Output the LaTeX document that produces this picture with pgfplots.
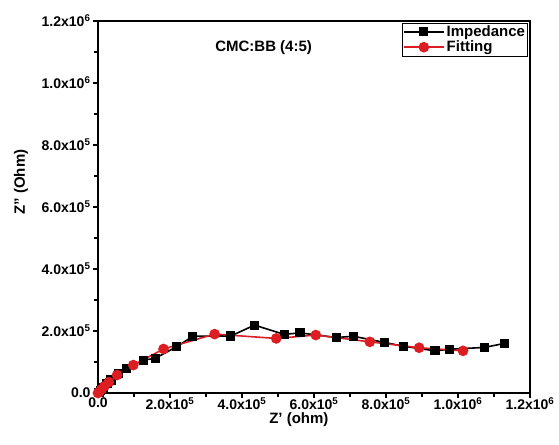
\documentclass[border=0pt]{standalone}
\usepackage{fontspec}
\setmainfont{Liberation Sans}
\usepackage{pgfplots}
\pgfplotsset{compat=1.18}
\definecolor{fitred}{RGB}{220,30,35}
\begin{document}
\begin{tikzpicture}
\begin{axis}[
  at={(0,0)}, anchor=south west,
  scale only axis, width=432pt, height=372pt,
  xmin=0, xmax=1200000, ymin=0, ymax=1200000,
  scaled ticks=false,
  axis line style={line width=1.3pt},
  tick align=outside, tick pos=left,
  major tick length=5pt, minor tick length=4pt,
  every tick/.style={line width=1.1pt, black},
  minor x tick num=1, minor y tick num=1,
  xtick={0,200000,400000,600000,800000,1000000,1200000},
  ytick={0,200000,400000,600000,800000,1000000,1200000},
  xticklabels={0.0,2.0x10\textsuperscript{5},4.0x10\textsuperscript{5},6.0x10\textsuperscript{5},8.0x10\textsuperscript{5},1.0x10\textsuperscript{6},1.2x10\textsuperscript{6}},
  yticklabels={0.0,2.0x10\textsuperscript{5},4.0x10\textsuperscript{5},6.0x10\textsuperscript{5},8.0x10\textsuperscript{5},1.0x10\textsuperscript{6},1.2x10\textsuperscript{6}},
  tick label style={font=\fontsize{14}{16}\selectfont\bfseries},
  xticklabel style={yshift=4pt},
  yticklabel style={xshift=1pt},
  xlabel={Z' (ohm)}, ylabel={Z'' (Ohm)},
  label style={font=\fontsize{15}{17}\selectfont\bfseries},
  xlabel style={at={(axis description cs:0.465,-0.072)}, anchor=center},
  ylabel style={at={(axis description cs:-0.178,0.567)}, anchor=center},
  legend style={at={(0.995,0.995)}, anchor=north east, draw=black, line width=0.6pt,
    font=\fontsize{15}{17}\selectfont\bfseries, inner sep=0.5pt, row sep=-1pt,
    cells={anchor=west}},
  legend cell align=left,
  legend image code/.code={\draw[mark repeat=2,mark phase=2] plot coordinates {(0pt,0pt) (20pt,0pt) (40pt,0pt)};},
]
\addplot[black, line width=1.6pt, mark=square*, mark size=3.8pt, mark options={solid,fill=black}] coordinates {
(3000,2000) (8000,8000) (15000,18000) (25000,30000) (36000,42000) (56000,64000)
(79000,79000) (126000,106000) (159000,112000) (218000,149000) (263500,183000)
(369000,184000) (435000,219000) (517000,189000) (561000,194000) (662000,179000)
(710000,183000) (796000,163000) (848000,151000) (936000,136000) (976000,141000)
(1073000,147000) (1129000,160000)
};
\addlegendentry{Impedance}
\addplot[fitred, line width=1.6pt, mark=*, mark size=4.5pt, mark options={solid,fill=fitred}] coordinates {
(0,0) (4000,4000) (10000,12000) (18000,22000) (30000,35000) (53000,58000) (98000,90000)
(182000,142000) (324000,190000) (495000,176000) (605000,187000) (755000,165000)
(892000,146000) (1014000,136000)
};
\addlegendentry{Fitting}
\node[font=\fontsize{15}{17}\selectfont\bfseries] at (axis cs:460000,1115000) {CMC:BB (4:5)};
\end{axis}
\pgfresetboundingbox
\path (-98pt,-51pt) rectangle (461pt,393pt);
\end{tikzpicture}
\end{document}
